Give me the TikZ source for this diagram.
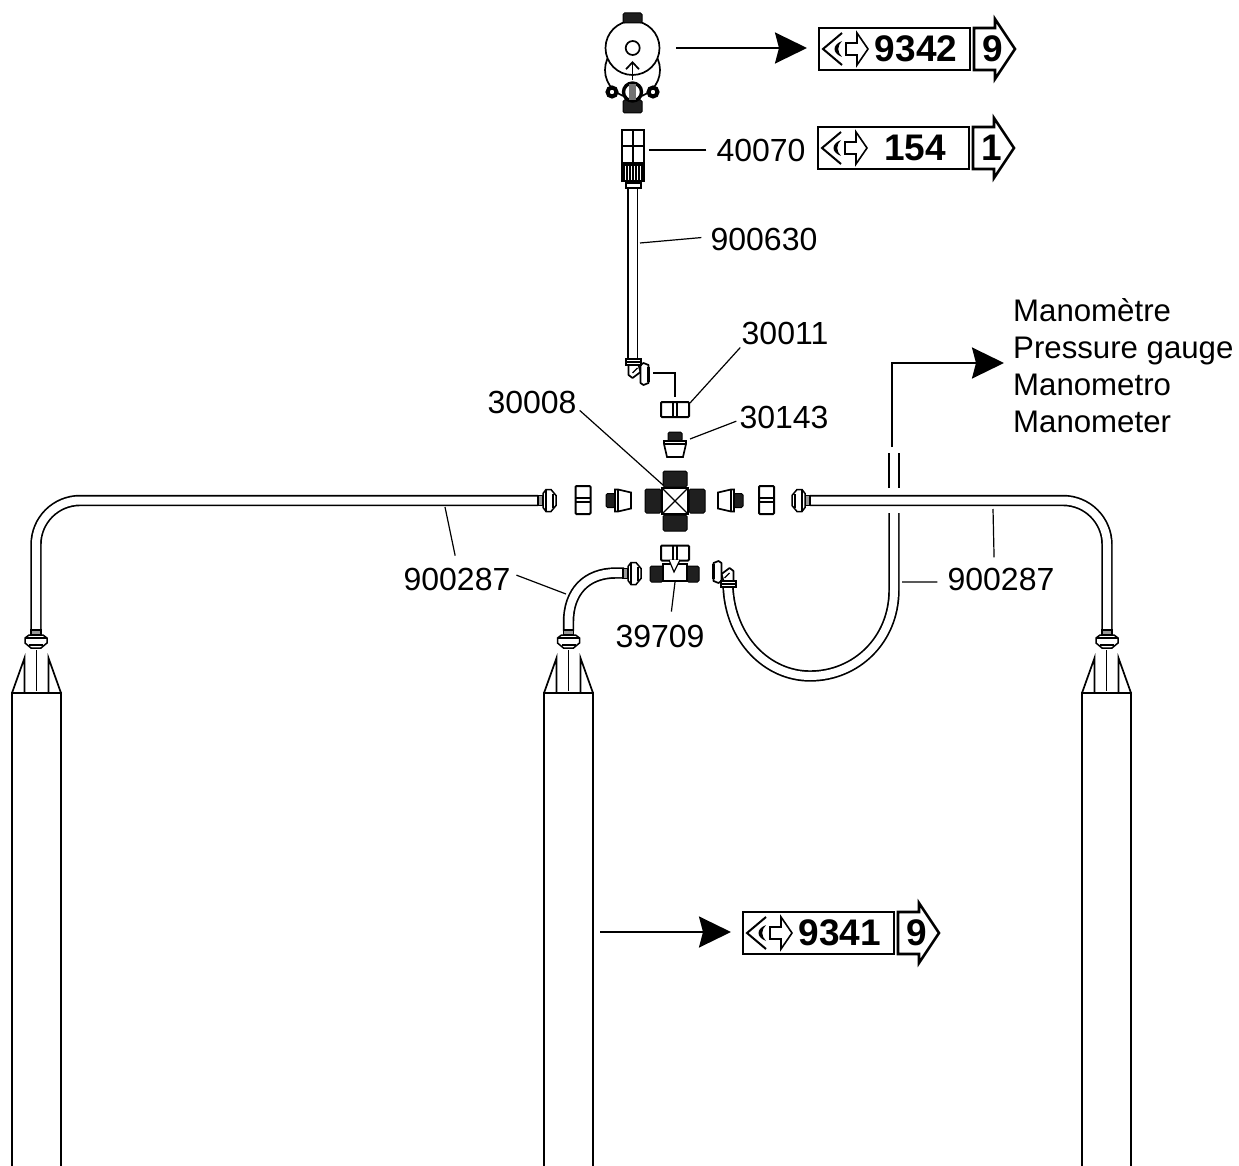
\documentclass[tikz,border=0pt]{standalone}
\usepackage{fontspec}
\setmainfont{Liberation Sans}
\usetikzlibrary{arrows.meta}
\newcommand{\refbadge}[4]{%
  \begin{scope}[shift={#1}]
    \draw[badgeline] (0,-21) rectangle (151,21);
    \draw[badgeline,line width=2pt] (23,-16) -- (4,0) -- (23,16);
    \fill[black] (23,-8) .. controls (13,-4) and (13,4) .. (23,8) .. controls (18,3) and (18,-3) .. cycle;
    \draw[partline,line width=1.6pt] (27,-6) -- (38,-6) -- (38,-16) -- (49,0) -- (38,16) -- (38,6) -- (27,6) -- cycle;
    \draw[badgeline] (155,-21) -- (176,-21) -- (176,-30) -- (196,0) -- (176,30) -- (176,21) -- (155,21) -- cycle;
    \node (num#2) [badgetext] at (97,0) {#2};
    \node (sheet#2) [badgetext] at (174,0) {#3};
    \coordinate (#4) at (-12,0);
  \end{scope}}
\begin{document}
\begin{tikzpicture}
  [x=1pt,y=-1pt,
 partline/.style={line width=1.7pt,draw=black},
 badgeline/.style={line width=2.6pt,draw=black},
 thinline/.style={line width=1.2pt,draw=black},
 leader/.style={line width=1.2pt,draw=black},
 tube/.style={line width=1.7pt,double=white,double distance=8pt},
 bigarrow/.style={line width=2.2pt,-{Stealth[length=32pt,width=31pt,inset=4pt]}},
 threaded/.style={fill=black!88,draw=black,line width=1pt,rounded corners=1.5pt},
 partno/.style={font=\fontsize{32}{37}\selectfont,inner sep=3pt},
 gaugetext/.style={font=\fontsize{31.2}{37}\selectfont,inner sep=0pt,align=left,anchor=west},
 badgetext/.style={font=\fontsize{37}{40}\selectfont\bfseries,inner sep=0pt},
 fitting/.pic={
  \draw[thinline,fill=black!40] (0,-5) rectangle (5,5);
  \draw[thinline,fill=white,line width=1.5pt] (5,-7) -- (8,-11) -- (13,-11) -- (18,-5) -- (18,5) -- (13,11) -- (8,11) -- (5,7) -- cycle;
  \draw[thinline] (8,-11) -- (8,11);
  \draw[line width=2.4pt] (15,-7) -- (15,7);},
 nutbox/.pic={
  \draw[partline,line width=2pt,fill=white,rounded corners=1pt] (-14,-7.5) rectangle (14,7.5);
  \draw[partline] (-2,-7.5) -- (-2,7.5) (2,-7.5) -- (2,7.5);},
 adapter/.pic={
  \draw[threaded] (-7,-9) rectangle (7,0);
  \draw[partline,fill=white] (-11,0) -- (11,0) -- (11,3) -- (8,16) -- (-8,16) -- (-11,3) -- cycle;
  \draw[partline] (-11,3) -- (11,3);},
 elbow/.pic={
  \draw[partline,fill=white,line join=round] (-5,3) -- (-5,13) -- (-1,16) -- (7,10) -- (5,3);
  \draw[thinline] (-1,11) -- (4,6);
  \draw[partline,fill=white,line join=round] (7,3) -- (10,1) -- (15,3) -- (15,21) -- (10,23) -- (7,21) -- cycle;
  \draw[line width=3pt] (15,5) -- (15,20);
  \draw[partline,fill=white] (-7.5,-3) rectangle (7.5,3);
  \draw[partline] (-7.5,0) -- (7.5,0);},
 column/.pic={
  \draw[partline] (-24.5,473) -- (-24.5,0) -- (24.5,0) -- (24.5,473);
  \draw[partline] (-24.5,0) -- (-12,-35) -- (-12,0);
  \draw[partline] (24.5,0) -- (12,-35) -- (12,0);
  \draw[thinline] (0,-43) -- (0,-2);}
]
\useasboundingbox (0,0) rectangle (1239,1166);
% columns
\pic at (36.5,693) {column};
\pic at (568.5,693) {column};
\pic at (1106.5,693) {column};
% hoses
\draw[tube,rounded corners=44pt] (36,631) -- (36,500.5) -- (538,500.5);
\draw[tube,rounded corners=44pt] (810,500.5) -- (1107,500.5) -- (1107,631);
\draw[tube] (568.5,631) -- (568.5,622) .. controls (568.5,592) and (586,573) .. (616,573) -- (624,573);
\draw[tube] (728,586) .. controls (730,640) and (768,676) .. (810,676) .. controls (856,676) and (894,640) .. (894,590) -- (894,513);
\draw[tube] (894,488) -- (894,453);
\draw[tube] (632.5,360) -- (632.5,186);
% fittings
\pic[rotate=-90] at (36,630) {fitting};
\pic[rotate=-90] at (568.5,630) {fitting};
\pic[rotate=-90] at (1107,630) {fitting};
\pic at (538,500.5) {fitting};
\pic[rotate=180] at (810,500.5) {fitting};
\pic at (623,573.5) {fitting};
\pic at (633.5,362) {elbow};
\pic[rotate=180] at (728.5,584) {elbow};
\pic at (675,409.5) {nutbox};
\pic at (675,553) {nutbox};
\pic[rotate=90] at (583,500) {nutbox};
\pic[rotate=90] at (766.5,500) {nutbox};
\pic at (675,441) {adapter};
\pic[rotate=90] at (615,500.5) {adapter};
\pic[rotate=-90] at (734,500.5) {adapter};
% cross
\foreach \ang in {0,90,180,270}
  \draw[threaded,rotate around={\ang:(675,501)}] (663,471) rectangle (687,487);
\draw[thinline,fill=white] (662,488) rectangle (688,514);
\draw[thinline] (662,488) -- (688,514) (662,514) -- (688,488);
% tee
\draw[threaded] (650,566) rectangle (663,582);
\draw[threaded] (687,566) rectangle (699,582);
\draw[partline,fill=white] (663,564) rectangle (687,581);
\draw[line width=2.4pt] (663,563) -- (663,582) (687,563) -- (687,582);
\draw[thinline,fill=white] (669,560) -- (674,572) -- (680,560);
% hose connector
\draw[partline,line width=2.2pt,fill=white] (622,130) rectangle (644,164);
\draw[partline] (633,130) -- (633,164) (622,146) -- (644,146);
\fill[black] (621,162) rectangle (645,182);
\foreach \kx in {625,628,...,642}
  \draw[white,line width=0.6pt] (\kx,166) -- (\kx,180);
\draw[partline,fill=white] (626,183) rectangle (641,188);
% valve
\draw[partline] (632.5,70) circle (27.5);
\draw[partline,fill=white] (632.5,48) circle (27);
\draw[threaded] (623,13) rectangle (642,23);
\draw[partline] (632.7,48) circle (7);
\draw[partline,-{Straight Barb[length=7pt,width=13pt]}] (632.5,80) -- (632.5,61);
\draw[threaded] (623,100) rectangle (642,113);
\draw[line width=4pt,fill=white] (612,92) circle (4.5);
\draw[line width=4pt,fill=white] (653,92) circle (4.5);
\draw[line width=3.4pt,fill=white] (632.5,92) circle (9);
\fill[black!55] (629,84) rectangle (636,100);
% badges
\refbadge{(819,49)}{9342}{9}{valvetip}
\refbadge{(818,148)}{154}{1}{hosetip}
\refbadge{(743,933)}{9341}{9}{columntip}
% arrows
\coordinate (valveout) at (676,48);
\coordinate (columnout) at (600,932);
\coordinate (gaugeout) at (892,447);
\coordinate (gaugetip) at (1004,363);
\draw[bigarrow] (valveout) -- (valvetip |- valveout);
\draw[bigarrow] (columnout) -- (columntip |- columnout);
\draw[bigarrow] (gaugeout) |- (gaugetip);
% part numbers
\node (no40070) [partno] at (761,150) {40070};
\node (no900630) [partno] at (764,239) {900630};
\node (no30011) [partno] at (785,333) {30011};
\node (no30143) [partno] at (784,417) {30143};
\node (no30008) [partno] at (532,402) {30008};
\node (no39709) [partno] at (660,636) {39709};
\node (leftno) [partno] at (457,579) {900287};
\node (rightno) [partno] at (1001,579) {900287};
\node (gauge) [gaugetext] at (1013,366) {Manomètre\\Pressure gauge\\Manometro\\Manometer};
% leaders
\coordinate (conn) at (649,150);
\coordinate (hose) at (640,243);
\coordinate (elbowout) at (653,373);
\coordinate (elbowbend) at (675,373);
\coordinate (nuttop) at (675,397);
\coordinate (nutside) at (690,403);
\coordinate (adapt) at (690,439);
\coordinate (crossarm) at (663,485);
\coordinate (lefthose) at (445,507);
\coordinate (midhose) at (566,594);
\coordinate (righthose) at (993,509);
\coordinate (uhose) at (902,582);
\coordinate (teebody) at (675,582);
\draw[leader,shorten <=7pt] (no40070.west) -- (conn);
\draw[leader,shorten <=6pt] (no900630.178) -- (hose);
\draw[leader] (elbowout) -- (elbowbend) -- (nuttop);
\draw[leader] (no30011.198) -- (nutside);
\draw[leader] (no30143.185) -- (adapt);
\draw[leader] (no30008.350) -- (crossarm);
\draw[leader,shorten <=9pt] (leftno.north) -- (lefthose);
\draw[leader,shorten <=3pt] (leftno.5) -- (midhose);
\draw[leader,shorten <=7pt] (rightno.115) -- (righthose);
\draw[leader,shorten <=7pt] (rightno.183) -- (uhose);
\draw[leader,shorten <=10pt] (no39709.55) -- (teebody);
\end{tikzpicture}
\end{document}
